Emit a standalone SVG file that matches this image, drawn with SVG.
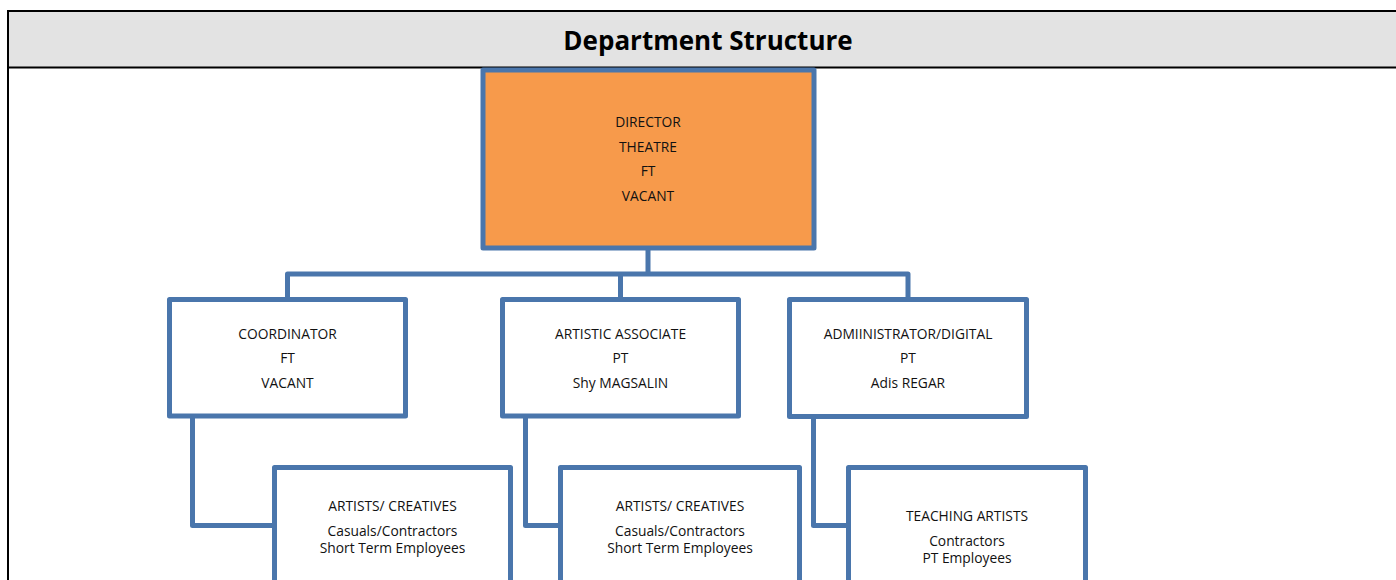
<svg xmlns="http://www.w3.org/2000/svg" width="1396" height="580" viewBox="0 0 1396 580">
<style>
.box{fill:#ffffff;stroke:#4a76ac;stroke-width:5;stroke-linejoin:round}
.dir{fill:#f79a4b;stroke:#4a76ac;stroke-width:5;stroke-linejoin:round}
.conn{fill:none;stroke:#4a76ac;stroke-width:5;stroke-linejoin:round}
.t{font-family:"Open Sans","Liberation Sans",Arial,sans-serif;font-size:13.8px;fill:#111;text-anchor:middle}
.title{font-family:"Open Sans","Liberation Sans",Arial,sans-serif;font-size:26px;font-weight:bold;fill:#000;text-anchor:middle}
</style>
<rect x="0" y="0" width="1396" height="580" fill="#ffffff"/>
<g id="header">
<rect x="8" y="11" width="1400" height="56" fill="#e3e3e3"/>
<line x1="8" y1="11" x2="1396" y2="11" stroke="#000" stroke-width="2"/>
<line x1="8" y1="67.5" x2="1396" y2="67.5" stroke="#000" stroke-width="2"/>
<line x1="8" y1="10" x2="8" y2="580" stroke="#000" stroke-width="2"/>
<text class="title" x="708" y="50">Department Structure</text>
</g>
<g id="connectors">
<path class="conn" d="M648 248 V274 M287.5 299.5 V274 H908 V299.5 M620.5 274 V299.5"/>
<path class="conn" d="M192.5 416 V525.5 H274.5"/>
<path class="conn" d="M525.5 416 V525.5 H560.5"/>
<path class="conn" d="M813.5 417 V525.5 H848.5"/>
</g>
<g id="director">
<rect class="dir" x="483" y="70" width="331" height="178"/>
<text class="t" x="648" y="127">DIRECTOR</text>
<text class="t" x="648" y="152">THEATRE</text>
<text class="t" x="648" y="176">FT</text>
<text class="t" x="648" y="201">VACANT</text>
</g>
<g id="coordinator">
<rect class="box" x="169.5" y="299.5" width="236" height="116.5"/>
<text class="t" x="287.5" y="339">COORDINATOR</text>
<text class="t" x="287.5" y="363">FT</text>
<text class="t" x="287.5" y="388">VACANT</text>
</g>
<g id="artistic-associate">
<rect class="box" x="502.5" y="299.5" width="236" height="116.5"/>
<text class="t" x="620.5" y="339">ARTISTIC ASSOCIATE</text>
<text class="t" x="620.5" y="363">PT</text>
<text class="t" x="620.5" y="388">Shy MAGSALIN</text>
</g>
<g id="administrator">
<rect class="box" x="789.5" y="299.5" width="237" height="117"/>
<text class="t" x="908" y="339">ADMIINISTRATOR/DIGITAL</text>
<text class="t" x="908" y="363">PT</text>
<text class="t" x="908" y="388">Adis REGAR</text>
</g>
<g id="artists-1">
<rect class="box" x="274.5" y="467.5" width="236" height="140"/>
<text class="t" x="392.5" y="511">ARTISTS/ CREATIVES</text>
<text class="t" x="392.5" y="536">Casuals/Contractors</text>
<text class="t" x="392.5" y="553">Short Term Employees</text>
</g>
<g id="artists-2">
<rect class="box" x="560.5" y="467.5" width="239" height="140"/>
<text class="t" x="680" y="511">ARTISTS/ CREATIVES</text>
<text class="t" x="680" y="536">Casuals/Contractors</text>
<text class="t" x="680" y="553">Short Term Employees</text>
</g>
<g id="teaching-artists">
<rect class="box" x="848.5" y="467.5" width="237" height="140"/>
<text class="t" x="967" y="521">TEACHING ARTISTS</text>
<text class="t" x="967" y="546">Contractors</text>
<text class="t" x="967" y="563">PT Employees</text>
</g>
</svg>
